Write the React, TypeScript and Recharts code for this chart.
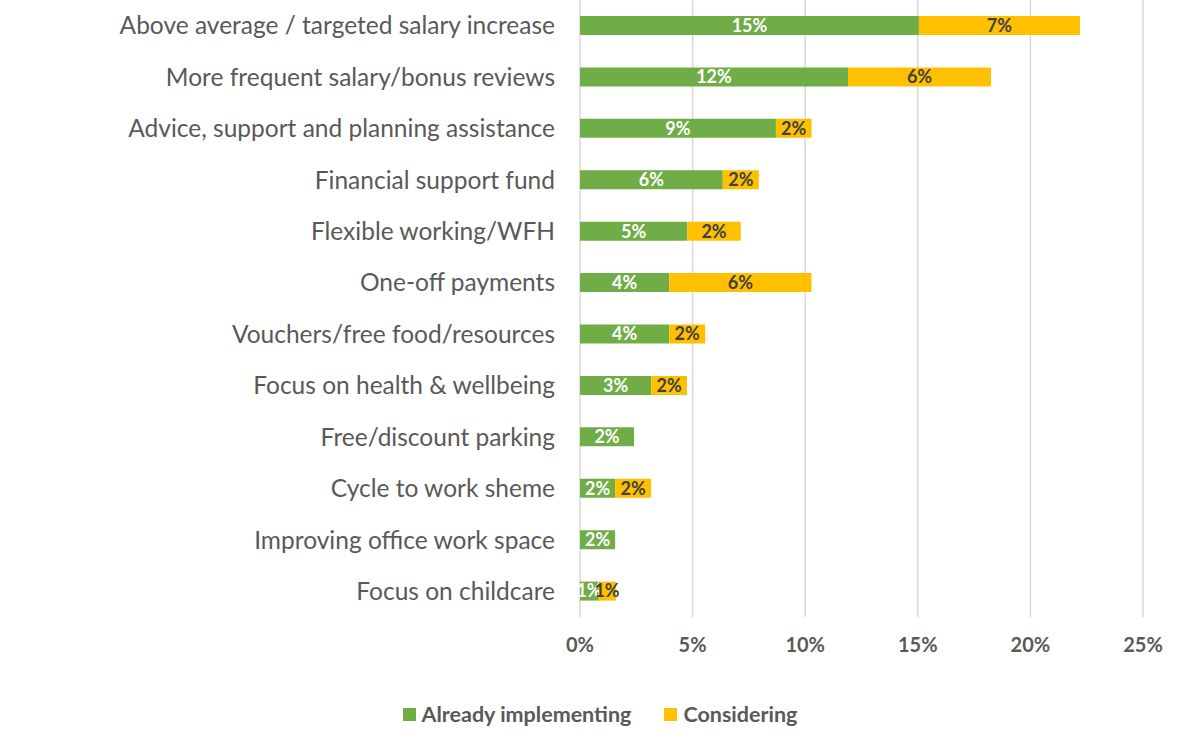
import React from 'react';
import { BarChart, Bar, XAxis, YAxis, CartesianGrid, LabelList, Legend } from 'recharts';

const categories = [
  'Above average / targeted salary increase',
  'More frequent salary/bonus reviews',
  'Advice, support and planning assistance',
  'Financial support fund',
  'Flexible working/WFH',
  'One-off payments',
  'Vouchers/free food/resources',
  'Focus on health & wellbeing',
  'Free/discount parking',
  'Cycle to work sheme',
  'Improving office work space',
  'Focus on childcare',
];
const alreadyImplementing = [15.05, 11.9, 8.7, 6.34, 4.76, 3.96, 3.96, 3.16, 2.4, 1.56, 1.56, 0.8];
const considering = [7.15, 6.35, 1.58, 1.6, 2.38, 6.32, 1.6, 1.59, 0, 1.6, 0, 0.8];
const xTicks = [0, 5, 10, 15, 20, 25];

const seriesNames = ['Already implementing', 'Considering'];
const colors = ['#70AD47', '#FFC000'];

const data = categories.map((name, i) => ({
  name,
  a: alreadyImplementing[i],
  c: considering[i],
}));

const FONT = 'Lato, "Open Sans", sans-serif';

const fmt = (v: any) => (v ? `${Math.round(Number(v))}%` : '');

const renderLegend = () => (
  <div style={{ display: 'flex', justifyContent: 'center', alignItems: 'center', fontFamily: FONT, fontWeight: 700, fontSize: 21.5, color: '#595959', lineHeight: '24px' }}>
    {seriesNames.map((n, i) => (
      <div key={n} style={{ display: 'flex', alignItems: 'center', marginRight: i === 0 ? 33 : 0 }}>
        <span style={{ display: 'inline-block', width: 13, height: 13, background: colors[i], marginRight: 6 }} />
        <span>{n}</span>
      </div>
    ))}
  </div>
);

export default function App() {
  return (
    <div style={{ position: 'absolute', left: 0, top: 0, width: 1200, height: 744, background: '#fff' }}>
      <BarChart
        width={1200}
        height={744}
        data={data}
        layout="vertical"
        margin={{ top: 0, right: 57, bottom: 73, left: 0 }}
        barSize={19}
      >
        <CartesianGrid horizontal={false} vertical={true} stroke="#D9D9D9" strokeWidth={1.5} />
        <XAxis
          type="number"
          domain={[0, 25]}
          ticks={xTicks}
          height={30}
          tickFormatter={(v: number) => `${v}%`}
          axisLine={false}
          tickLine={false}
          tickSize={0}
          tickMargin={21}
          interval={0}
          tick={{ fill: '#595959', fontSize: 20, fontWeight: 700, fontFamily: FONT }}
        />
        <YAxis
          type="category"
          dataKey="name"
          width={580}
          axisLine={false}
          tickLine={false}
          tickSize={0}
          tickMargin={25}
          interval={0}
          tick={{ fill: '#595959', fontSize: 24.5, fontFamily: FONT }}
        />
        <Legend content={renderLegend} wrapperStyle={{ top: 702, left: 0, width: 1200 }} />
        <Bar dataKey="a" stackId="s" fill={colors[0]} name={seriesNames[0]} isAnimationActive={false}>
          <LabelList dataKey="a" position="center" formatter={fmt} fill="#FFFFFF" fontSize={18} fontWeight={700} fontFamily={FONT} />
        </Bar>
        <Bar dataKey="c" stackId="s" fill={colors[1]} name={seriesNames[1]} isAnimationActive={false}>
          <LabelList dataKey="c" position="center" formatter={fmt} fill="#404040" fontSize={18} fontWeight={700} fontFamily={FONT} />
        </Bar>
      </BarChart>
    </div>
  );
}
